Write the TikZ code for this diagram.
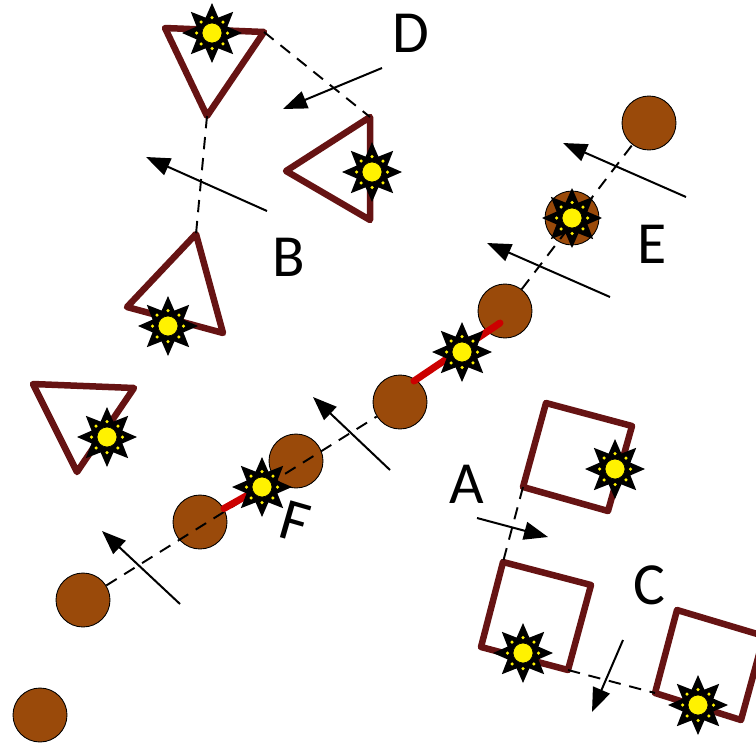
\documentclass[tikz,border=0pt]{standalone}
\usepackage{fontspec}
\setmainfont{Carlito}
\usetikzlibrary{arrows.meta,shapes.geometric}

\definecolor{maroon}{HTML}{661313}
\definecolor{rust}{HTML}{9A4A0A}
\definecolor{signal}{HTML}{CC0000}

\begin{document}
\begin{tikzpicture}[x=0.02cm, y=-0.02cm,
  shp/.style={draw=maroon, line width=0.13cm, line join=round},
  lnk/.style={line width=1.1pt, dash pattern=on 7pt off 5pt},
  ball/.style={circle, draw=black, line width=0.5pt, fill=rust, minimum size=1.08cm, inner sep=0pt},
  sun/.style={star, star points=8, star point ratio=1.8, minimum size=1.2cm, inner sep=0pt, fill=black,
    path picture={
      \begin{scope}[shift={(path picture bounding box.center)}]
        \foreach \a in {0,45,...,315} \fill[yellow] (\a:0.31cm) circle (0.035cm);
        \filldraw[fill=yellow, draw=black, line width=0.4pt] (0,0) circle (0.2cm);
      \end{scope}}},
  arr/.style={-{Triangle[length=0.48cm, width=0.36cm]}, line width=0.04cm},
  lbl/.style={font=\fontsize{34}{40}\selectfont, inner sep=0pt},
  hot/.style={draw=signal, line width=0.14cm, line cap=round}
]
\useasboundingbox (0,0) rectangle (756,744);

% triangles
\coordinate (t1a) at (165,28);  \coordinate (t1b) at (264,32);  \coordinate (t1c) at (207,116);
\coordinate (t2a) at (370,117); \coordinate (t2b) at (286,171); \coordinate (t2c) at (370,220);
\coordinate (t3a) at (196,234); \coordinate (t3b) at (127,307); \coordinate (t3c) at (223,333);
\coordinate (t4a) at (33,384);  \coordinate (t4b) at (134,388); \coordinate (t4c) at (77,472);
\draw[shp] (t1a) -- (t1b) -- (t1c) -- cycle;
\draw[shp] (t2a) -- (t2b) -- (t2c) -- cycle;
\draw[shp] (t3a) -- (t3b) -- (t3c) -- cycle;
\draw[shp] (t4a) -- (t4b) -- (t4c) -- cycle;
\draw[lnk] (t1b) -- (t2a);
\draw[lnk] (t1c) -- (t3a);

% squares
\coordinate (q1a) at (546,403); \coordinate (q1b) at (632,426); \coordinate (q1c) at (608,511); \coordinate (q1d) at (523,487);
\coordinate (q2a) at (503,562); \coordinate (q2b) at (591,585); \coordinate (q2c) at (568,670); \coordinate (q2d) at (481,647);
\coordinate (q3a) at (677,610); \coordinate (q3b) at (764,636); \coordinate (q3c) at (741,720); \coordinate (q3d) at (655,693);
\draw[shp] (q1a) -- (q1b) -- (q1c) -- (q1d) -- cycle;
\draw[shp] (q2a) -- (q2b) -- (q2c) -- (q2d) -- cycle;
\draw[shp] (q3a) -- (q3b) -- (q3c) -- (q3d) -- cycle;
\draw[lnk] (q1d) -- (q2a);
\draw[lnk] (q2c) -- (q3d);

% balls
\node[ball] (c1) at (40,715) {};
\node[ball] (c2) at (83,600) {};
\node[ball] (c3) at (200,522) {};
\node[ball] (c4) at (296,461) {};
\node[ball] (c5) at (400,402) {};
\node[ball] (c6) at (505,311) {};
\node[ball] (c7) at (572,218) {};
\node[ball] (c8) at (649,123) {};
\draw[lnk] (c2) -- (c5);
\draw[lnk] (c6) -- (c8);

% red links
\coordinate (h1) at (414,381);
\coordinate (h2) at (500,323);
\coordinate (hf) at (262,487);
\draw[hot] (h1) -- (h2);
\draw[hot] (c3) -- (hf);

% suns
\node[sun] (s1) at (212,33) {};
\node[sun] (s2) at (372,172) {};
\node[sun] (s3) at (168,326) {};
\node[sun] (s4) at (107,437) {};
\node[sun] (s5) at (hf) {};
\node[sun] (s6) at (462,352) {};
\node[sun] (s7) at (572,218) {};
\node[sun] (s8) at (615,469) {};
\node[sun] (s9) at (523,653) {};
\node[sun] (s10) at (698,705) {};

% arrows
\coordinate (dT) at (382,68);  \coordinate (dH) at (283,109);
\coordinate (bT) at (267,211); \coordinate (bH) at (146,157);
\coordinate (fT) at (180,604); \coordinate (fH) at (102,531);
\coordinate (mT) at (390,470); \coordinate (mH) at (313,397);
\coordinate (eT) at (686,197); \coordinate (eH) at (563,143);
\coordinate (gT) at (610,297); \coordinate (gH) at (487,243);
\coordinate (aT) at (477,518); \coordinate (aH) at (548,537);
\coordinate (kT) at (623,640); \coordinate (kH) at (592,712);
\draw[arr] (dT) -- (dH);
\draw[arr] (bT) -- (bH);
\draw[arr] (fT) -- (fH);
\draw[arr] (mT) -- (mH);
\draw[arr] (eT) -- (eH);
\draw[arr] (gT) -- (gH);
\draw[arr] (aT) -- (aH);
\draw[arr] (kT) -- (kH);

% labels
\node[lbl] (lD) at (411,33) {D};
\node[lbl] (lB) at (289,257) {B};
\node[lbl] (lE) at (652,244) {E};
\node[lbl, rotate=-16] (lF) at (295,522) {F};
\node[lbl] (lA) at (467,484) {A};
\node[lbl] (lC) at (649,585) {C};
\end{tikzpicture}
\end{document}
